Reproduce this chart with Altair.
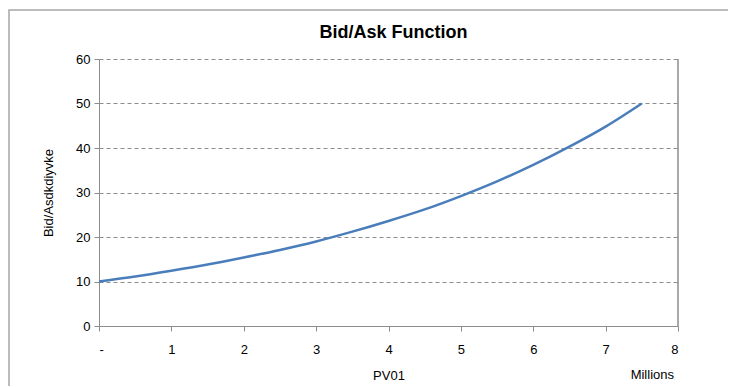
import altair as alt
import pandas as pd

# Values
pv01_millions = [0.0, 0.5, 1.0, 1.5, 2.0, 2.5, 3.0, 3.5, 4.0, 4.5, 5.0, 5.5, 6.0, 6.5, 7.0, 7.5]
bid_ask = [10.0, 11.1, 12.4, 13.8, 15.4, 17.1, 19.0, 21.2, 23.6, 26.2, 29.2, 32.5, 36.2, 40.3, 44.8, 50.0]

x_ticks = [0, 1, 2, 3, 4, 5, 6, 7, 8]
y_ticks = [0, 10, 20, 30, 40, 50, 60]

title_text = ["Bid/Ask Function"]
unit_text = ["Millions"]

df = pd.DataFrame({"pv01": pv01_millions, "bidask": bid_ask})

W, H = 579, 267
FONT = "Liberation Sans"
GRID = "#8c8c8c"
AXIS = "#8c8c8c"

xscale = alt.Scale(domain=[0, 8], nice=False, zero=False)
yscale = alt.Scale(domain=[0, 60], nice=False)

line = alt.Chart(df).mark_line(color="#4a7ebb", strokeWidth=2.5, interpolate="monotone").encode(
    x=alt.X("pv01:Q", scale=xscale,
            axis=alt.Axis(values=x_ticks, title="PV01", grid=False, format="d",
                          labelExpr="datum.value == 0 ? '-' : datum.label",
                          labelPadding=12, tickSize=5, tickColor=AXIS, domainColor=AXIS,
                          titlePadding=13, titleFontWeight="normal", titleFontSize=13,
                          labelFontSize=13, labelColor="#000", titleColor="#000")),
    y=alt.Y("bidask:Q", scale=yscale,
            axis=alt.Axis(values=y_ticks, title="Bid/Asdkdiyvke", grid=True, format="d",
                          gridDash=[4, 3], gridColor=GRID, gridWidth=1,
                          tickSize=5, tickColor=AXIS, domainColor=AXIS,
                          labelPadding=4, titlePadding=20, titleFontWeight="normal",
                          titleFontSize=13, labelFontSize=13, labelColor="#000", titleColor="#000")),
)

right_border = alt.Chart(pd.DataFrame({"x": [8]})).mark_rule(color=AXIS, strokeWidth=1.5).encode(
    x=alt.X("x:Q", scale=xscale), y=alt.value(0), y2=alt.value(H)
)

millions = alt.Chart(pd.DataFrame({"t": unit_text})).mark_text(
    font=FONT, fontSize=13, color="#000", align="right", baseline="middle"
).encode(text="t:N", x=alt.value(W - 4), y=alt.value(H + 49))

title = alt.Chart(pd.DataFrame({"t": title_text})).mark_text(
    font=FONT, fontSize=18, fontWeight="bold", color="#000", align="center", baseline="middle"
).encode(text="t:N", x=alt.value(W / 2 + 5), y=alt.value(-26))

frame = alt.Chart(pd.DataFrame({"a": [0]})).mark_rect(
    fill=None, stroke="#a6a6a6", strokeWidth=1.5
).encode(x=alt.value(-90), x2=alt.value(W + 120), y=alt.value(-49), y2=alt.value(H + 120))

chart = alt.layer(frame, line, right_border, millions, title).properties(
    width=W, height=H,
    padding={"left": 91, "top": 51, "right": 50, "bottom": 60},
    autosize=alt.AutoSizeParams(type="none"),
).configure(font=FONT).configure_view(stroke=None)

chart.save("out.html", embed_options={"renderer": "svg", "actions": False})
